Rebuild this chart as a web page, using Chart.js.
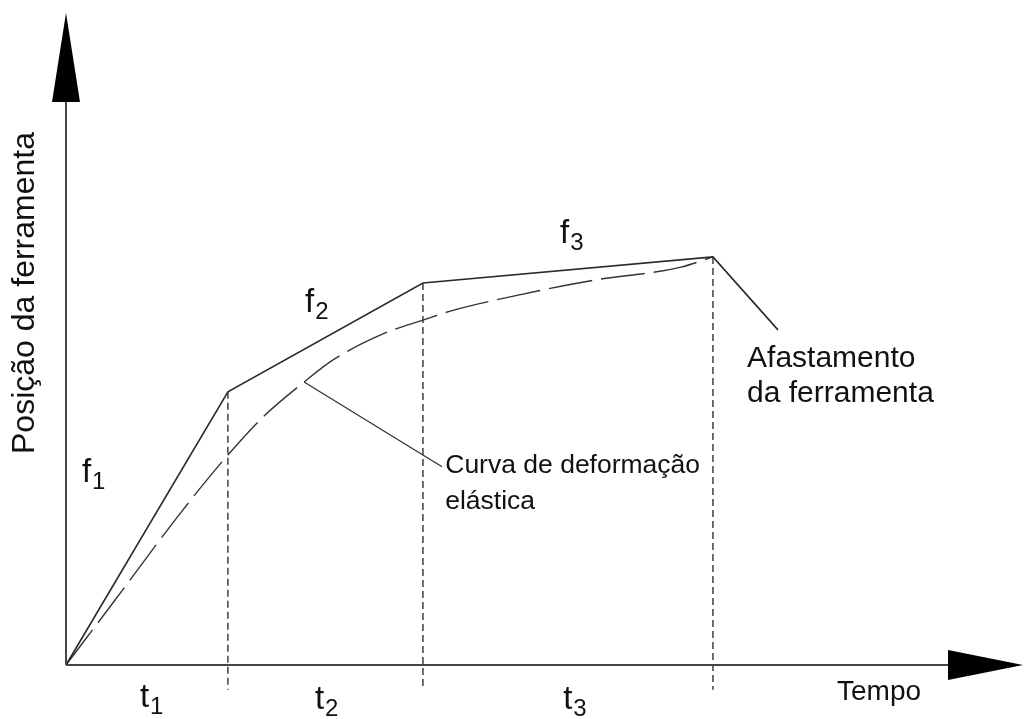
<!DOCTYPE html>
<html>
<head>
<meta charset="utf-8">
<script src="https://cdn.jsdelivr.net/npm/chart.js@4.4.1/dist/chart.umd.min.js"></script>
<style>
  html, body { margin: 0; padding: 0; background: #fff; }
  #wrap { width: 1024px; height: 719px; }
</style>
</head>
<body>
<div id="wrap"><canvas id="feedChart" width="1024" height="719"></canvas></div>
<script>
// tool path: feed segments f1..f3 end at t1..t3, then the tool backs off
const breakTimes = [0, 5.08, 11.2, 20.3];
const toolPosition = [0, 41.9, 58.6, 62.6];
const retractPoint = { x: 22.34, y: 51.4 };

// elastic deformation curve (lags behind the programmed path)
const curveTimes = [0, 1.54, 3.67, 5.08, 6.24, 7.47, 8.38, 10.0, 11.2, 12.14, 14.15, 16.54, 19.27, 20.3];
const curveValues = [0, 9.97, 23.8, 32.2, 38.3, 43.4, 46.8, 50.9, 52.9, 54.4, 56.7, 59.0, 61.0, 62.6];

const feedLabels = ["1", "2", "3"];
const timeLabels = ["1", "2", "3"];

const FONT = '"Liberation Sans", Arial, sans-serif';

const pathData = breakTimes.map((t, i) => ({ x: t, y: toolPosition[i] }));
pathData.push(retractPoint);

const curveData = curveTimes.map((t, i) => ({ x: t, y: curveValues[i] }));

// dashed drop lines from each break point to just under the time axis
const dropSets = breakTimes.slice(1).map((t, i) => ({
    data: [{ x: t, y: toolPosition[i + 1] }, { x: t, y: -3.8 }],
    borderColor: "#333",
    borderWidth: 1.4,
    borderDash: [7, 4],
    pointRadius: 0,
    showLine: true,
    clip: false
}));

function drawSub(ctx, main, sub, px, py, big, small) {
    ctx.font = big + "px " + FONT;
    ctx.fillText(main, px, py);
    const w = ctx.measureText(main).width;
    ctx.font = small + "px " + FONT;
    ctx.fillText(sub, px + w + 1, py + 7);
}

const diagramDecor = {
    id: "diagramDecor",
    afterDatasetsDraw(chart) {
        const ctx = chart.ctx;
        const xs = chart.scales.x, ys = chart.scales.y;
        const ox = xs.getPixelForValue(0), oy = ys.getPixelForValue(0);
        const px = v => xs.getPixelForValue(v);
        const py = v => ys.getPixelForValue(v);

        ctx.save();
        // axes
        ctx.strokeStyle = "#444";
        ctx.lineWidth = 2;
        ctx.beginPath();
        ctx.moveTo(ox, oy);
        ctx.lineTo(ox, 100);
        ctx.moveTo(ox, oy);
        ctx.lineTo(950, oy);
        ctx.stroke();

        // arrow heads
        ctx.fillStyle = "#000";
        ctx.beginPath();
        ctx.moveTo(ox, 13);
        ctx.lineTo(ox + 14, 102);
        ctx.lineTo(ox - 14, 102);
        ctx.closePath();
        ctx.fill();
        ctx.beginPath();
        ctx.moveTo(1023, oy);
        ctx.lineTo(948, oy - 15);
        ctx.lineTo(948, oy + 15);
        ctx.closePath();
        ctx.fill();

        // leader from the elastic curve to its label
        const lead = curveData[5];
        ctx.strokeStyle = "#333";
        ctx.lineWidth = 1.3;
        ctx.beginPath();
        ctx.moveTo(px(lead.x), py(lead.y));
        ctx.lineTo(px(11.8), py(30.4));
        ctx.stroke();

        // texts
        ctx.fillStyle = "#111";
        ctx.textBaseline = "alphabetic";
        ctx.textAlign = "left";

        drawSub(ctx, "f", feedLabels[0], px(0.5), py(28.1), 33, 24);
        drawSub(ctx, "f", feedLabels[1], px(7.5), py(54.1), 33, 24);
        drawSub(ctx, "f", feedLabels[2], px(15.5), py(64.7), 33, 24);

        drawSub(ctx, "t", timeLabels[0], px(2.32), py(-6.5), 33, 24);
        drawSub(ctx, "t", timeLabels[1], px(7.81), py(-6.8), 33, 24);
        drawSub(ctx, "t", timeLabels[2], px(15.6), py(-6.8), 33, 24);

        ctx.font = "28px " + FONT;
        ctx.fillText("Tempo", 837, py(-5.4));

        ctx.font = "26.5px " + FONT;
        ctx.fillText("Curva de deformação", px(11.9), py(29.4));
        ctx.fillText("elástica", px(11.9), py(24.0));

        ctx.font = "30px " + FONT;
        ctx.fillText("Afastamento", px(21.37), py(45.7));
        ctx.fillText("da ferramenta", px(21.37), py(40.3));

        // y axis title
        ctx.translate(34, 293);
        ctx.rotate(-Math.PI / 2);
        ctx.textAlign = "center";
        ctx.font = "32px " + FONT;
        ctx.fillText("Posição da ferramenta", 0, 0);
        ctx.restore();
    }
};

new Chart(document.getElementById("feedChart").getContext("2d"), {
    type: "scatter",
    data: {
        datasets: [
            {
                data: pathData,
                borderColor: "#2a2a2a",
                borderWidth: 1.6,
                pointRadius: 0,
                showLine: true,
                tension: 0,
                clip: false
            },
            {
                data: curveData,
                borderColor: "#333",
                borderWidth: 1.4,
                borderDash: [44, 9],
                pointRadius: 0,
                showLine: true,
                cubicInterpolationMode: "monotone",
                clip: false
            },
            ...dropSets
        ]
    },
    options: {
        responsive: false,
        animation: false,
        events: [],
        layout: { padding: 0 },
        scales: {
            x: { type: "linear", min: -2.071, max: 30.06, display: false },
            y: { type: "linear", min: -8.28, max: 102.0, display: false }
        },
        plugins: {
            legend: { display: false },
            tooltip: { enabled: false }
        }
    },
    plugins: [diagramDecor]
});
</script>
</body>
</html>
